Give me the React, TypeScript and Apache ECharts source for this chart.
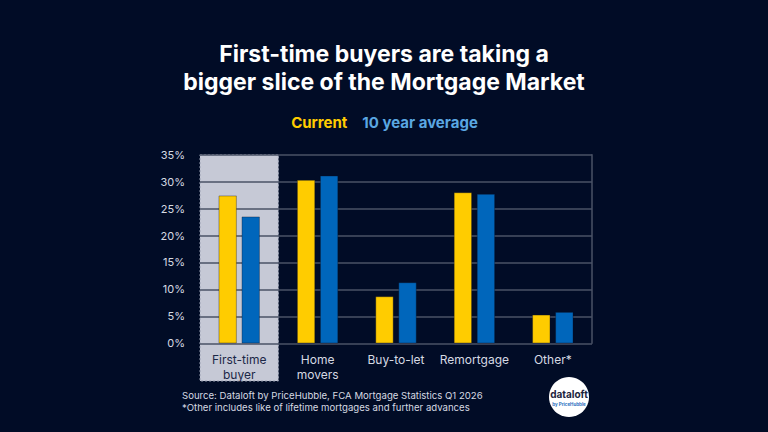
import React, { useEffect, useRef } from "react";
import * as echarts from "echarts";

const categories = ["First-time\nbuyer", "Home\nmovers", "Buy-to-let", "Remortgage", "Other*"];
const currentValues = [27.4, 30.3, 8.7, 28.0, 5.3];
const averageValues = [23.5, 31.1, 11.3, 27.7, 5.8];
const yTicks = [0, 5, 10, 15, 20, 25, 30, 35];
const titleLines = ["First-time buyers are taking a", "bigger slice of the Mortgage Market"];
const sourceLines = [
  "Source: Dataloft by PriceHubble, FCA Mortgage Statistics Q1 2026",
  "*Other includes like of lifetime mortgages and further advances",
];

const BG = "#010c26";
const YELLOW = "#ffcc00";
const BLUE = "#0066bb";

export default function App() {
  const ref = useRef<HTMLDivElement>(null);
  useEffect(() => {
    if (!ref.current) return;
    const chart = echarts.init(ref.current, undefined, { renderer: "svg" });
    const gridLeft = 200, gridRight = 176, gridTop = 154.7, gridBottom = 88.7;
    const option: any = {
      animation: false,
      backgroundColor: BG,
      textStyle: { fontFamily: "Inter" },
      title: {
        text: titleLines.join("\n"),
        left: "center",
        top: 35,
        textStyle: { color: "#ffffff", fontSize: 23, fontWeight: 700, lineHeight: 28, fontFamily: "Inter" },
      },
      legend: {
        top: 110,
        left: "center",
        itemWidth: 0,
        itemHeight: 0,
        itemGap: 14,
        selectedMode: false,
        data: [
          { name: "Current", textStyle: { color: YELLOW } },
          { name: "10 year average", textStyle: { color: "#5aa7e2" } },
        ],
        textStyle: { fontSize: 15, fontWeight: 700, fontFamily: "Inter", padding: [0, 0, 0, -5] },
      },
      grid: { left: gridLeft, right: gridRight, top: gridTop, bottom: gridBottom, containLabel: false },
      xAxis: {
        type: "category",
        data: categories,
        axisLine: { show: false },
        axisTick: { show: false },
        axisLabel: {
          interval: 0,
          margin: 9,
          fontSize: 12,
          lineHeight: 15,
          fontFamily: "Inter",
          formatter: (v: string, i: number) => (i === 0 ? `{hl|${v}}` : `{n|${v}}`),
          rich: {
            hl: { color: "#1b2747", fontSize: 12, lineHeight: 15, fontFamily: "Inter" },
            n: { color: "#d6dae3", fontSize: 12, lineHeight: 15, fontFamily: "Inter" },
          },
        },
      },
      yAxis: [
        {
          type: "value",
          min: 0,
          max: yTicks[yTicks.length - 1],
          interval: 5,
          axisLine: { show: false },
          axisTick: { show: false },
          axisLabel: { formatter: "{value}%", color: "#d6dae3", fontSize: 11, margin: 15, fontFamily: "Inter" },
          splitLine: { lineStyle: { color: "#4a5266", width: 1.5 } },
        },
        {
          type: "value",
          position: "right",
          min: 0,
          max: 35,
          interval: 5,
          axisLine: { show: true, lineStyle: { color: "#4a5266", width: 1.5 } },
          axisTick: { show: false },
          axisLabel: { show: false },
          splitLine: { show: false },
        },
      ],
      series: [
        {
          name: "Current",
          type: "bar",
          data: currentValues,
          barWidth: 18,
          barGap: "28%",
          itemStyle: { color: YELLOW, borderColor: "rgba(20,20,30,0.6)", borderWidth: 0.6 },
        },
        {
          name: "10 year average",
          type: "bar",
          data: averageValues,
          barWidth: 18,
          itemStyle: { color: BLUE, borderColor: "rgba(10,20,40,0.6)", borderWidth: 0.6 },
        },
      ],
    };
    chart.setOption(option);

    const plotWidth = 768 - gridLeft - gridRight;
    const band = plotWidth / categories.length;
    const cx = chart.convertToPixel({ xAxisIndex: 0 }, categories[0]) as number;
    const yTop = chart.convertToPixel({ yAxisIndex: 0 }, 35) as number;
    chart.setOption({
      graphic: [
        {
          type: "rect",
          z: -1,
          silent: true,
          shape: { x: cx - band / 2, y: yTop, width: band, height: 381 - yTop },
          style: { fill: "#c6c9d6", stroke: "#9aa0b2", lineWidth: 1, lineDash: [2, 2] },
        },
        {
          type: "text",
          x: 182,
          y: 395,
          style: {
            text: sourceLines[0],
            fill: "#d6dae3",
            font: "9.6px Inter",
            verticalAlign: "middle",
          },
        },
        {
          type: "text",
          x: 182,
          y: 407,
          style: {
            text: sourceLines[1],
            fill: "#d6dae3",
            font: "9.6px Inter",
            verticalAlign: "middle",
          },
        },
        {
          type: "circle",
          shape: { cx: 569, cy: 397, r: 20 },
          style: { fill: "#ffffff" },
        },
        {
          type: "text",
          x: 569,
          y: 394,
          style: {
            text: "dataloft",
            fill: "#1d2540",
            font: "bold 10px Inter",
            align: "center",
            verticalAlign: "middle",
          },
        },
        {
          type: "text",
          x: 569,
          y: 404,
          style: {
            text: "by PriceHubble",
            fill: "#2a6fc0",
            font: "bold 4.5px Inter",
            align: "center",
            verticalAlign: "middle",
          },
        },
      ],
    });
    return () => chart.dispose();
  }, []);
  return <div ref={ref} style={{ width: 768, height: 432, position: "fixed", left: 0, top: 0 }} />;
}
